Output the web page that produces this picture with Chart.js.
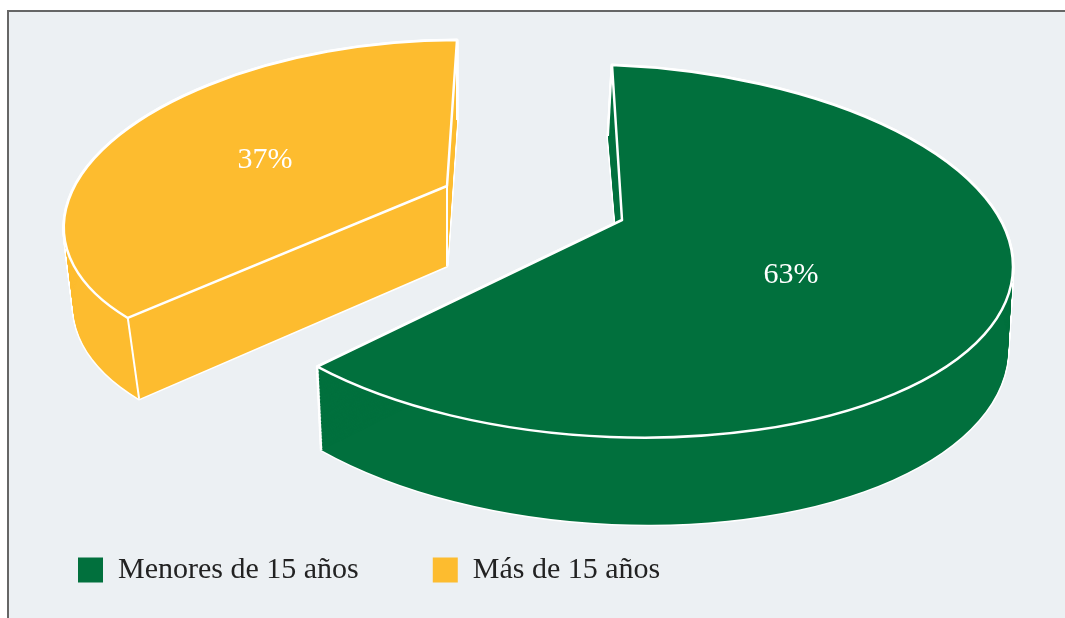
<!DOCTYPE html>
<html>
<head>
<meta charset="utf-8">
<title>Menores de 15 años</title>
<script src="https://cdn.jsdelivr.net/npm/chart.js@4"></script>
<style>
  html, body { margin: 0; background: #fff; }
  #panel { position: absolute; left: 7px; top: 10px; width: 1058px; height: 608px;
           background: #ecf0f3; border-left: 2px solid #666; border-top: 2px solid #666; box-sizing: border-box; }
  #myChart { position: absolute; left: 0; top: 0; }
</style>
</head>
<body>
<div id="panel"></div>
<canvas id="myChart" width="1065" height="618"></canvas>
<script>
const categories = ["Menores de 15 años", "Más de 15 años"];
const values = [63, 37];
const colors = ["#01703d", "#fdbc2f"];

// how each flat pie slice is laid onto the page: [ux, uy, vx, vy, cx, cy]
const topFace = [[402, 16, -1, 186, 611, 251], [343, 0, -47, 165, 410, 205]];
const baseFace = [[398, 17.7, 2, 194, 610, 330], [339, 0, -42, 165.6, 415, 285.6]];
const tips = [[622, 220], [447, 186]];
const tipDrop = 80;
const labelSpots = [[791, 275], [265, 160]];

function slicePath(ctx, arc, m, tip) {
    ctx.beginPath();
    ctx.save();
    ctx.transform(m[0], m[1], m[2], m[3], m[4], m[5]);
    ctx.arc(0, 0, 1, arc.startAngle, arc.endAngle);
    ctx.restore();
    ctx.lineTo(tip[0], tip[1]);
    ctx.closePath();
}

function onFace(m, angle) {
    return [m[0] * Math.cos(angle) + m[2] * Math.sin(angle) + m[4],
            m[1] * Math.cos(angle) + m[3] * Math.sin(angle) + m[5]];
}

function line(ctx, a, b) {
    ctx.beginPath();
    ctx.moveTo(a[0], a[1]);
    ctx.lineTo(b[0], b[1]);
    ctx.stroke();
}

const slice3d = {
    id: "slice3d",
    beforeDatasetsDraw(chart) {
        const ctx = chart.ctx;
        const arcs = chart.getDatasetMeta(0).data;
        const steps = 60;
        ctx.save();
        ctx.strokeStyle = "#fff";
        ctx.lineJoin = "round";
        arcs.forEach((arc, i) => {
            const low = tips[i][1] + tipDrop;
            // side wall: white outline first, then the fill over it
            for (const pass of ["stroke", "fill"]) {
                for (let s = 0; s <= steps; s++) {
                    const t = s / steps;
                    const m = topFace[i].map((v, k) => v + (baseFace[i][k] - v) * t);
                    slicePath(ctx, arc, m, [tips[i][0], tips[i][1] + (low - tips[i][1]) * t]);
                    if (pass === "stroke") {
                        ctx.lineWidth = 3;
                        ctx.stroke();
                    } else {
                        ctx.fillStyle = colors[i];
                        ctx.fill();
                    }
                }
            }
            ctx.lineWidth = 2;
            line(ctx, onFace(topFace[i], arc.startAngle), onFace(baseFace[i], arc.startAngle));
            line(ctx, onFace(topFace[i], arc.endAngle), onFace(baseFace[i], arc.endAngle));
            line(ctx, tips[i], [tips[i][0], low]);
            // top face
            slicePath(ctx, arc, topFace[i], tips[i]);
            ctx.fillStyle = colors[i];
            ctx.fill();
            ctx.lineWidth = 2.5;
            ctx.stroke();
        });
        ctx.fillStyle = "#fff";
        ctx.font = "30px 'Liberation Serif'";
        ctx.textAlign = "center";
        ctx.textBaseline = "middle";
        values.forEach((v, i) => ctx.fillText(v + "%", labelSpots[i][0], labelSpots[i][1]));
        ctx.restore();
        return false;
    }
};

new Chart("myChart", {
    type: "pie",
    data: {
        labels: categories,
        datasets: [{ data: values, backgroundColor: colors, borderWidth: 0 }]
    },
    options: {
        responsive: false,
        animation: false,
        layout: { padding: { left: 4, bottom: 23 } },
        plugins: {
            tooltip: { enabled: false },
            legend: {
                position: "bottom",
                align: "start",
                labels: {
                    boxWidth: 25,
                    boxHeight: 25,
                    padding: 74,
                    color: "#222",
                    font: { family: "'Liberation Serif'", size: 30 }
                }
            }
        }
    },
    plugins: [slice3d]
});
</script>
</body>
</html>
